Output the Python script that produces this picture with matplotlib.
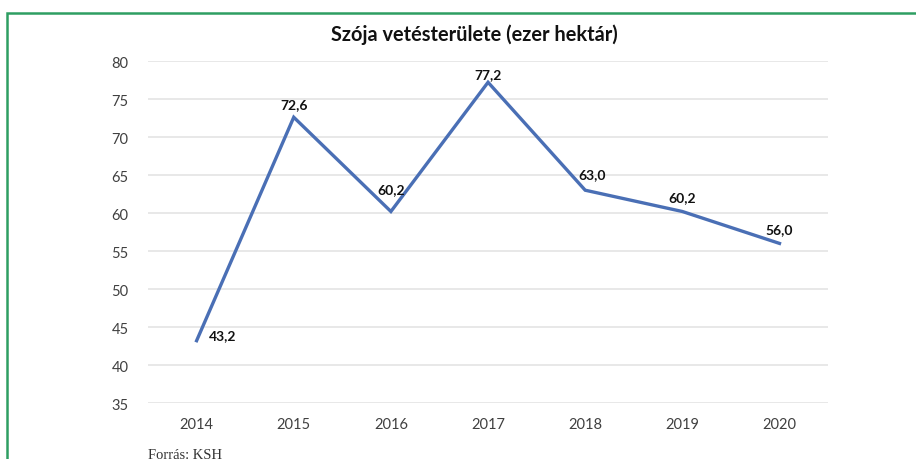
import matplotlib.pyplot as plt
from matplotlib.patches import Rectangle

years = ['2014', '2015', '2016', '2017', '2018', '2019', '2020']
area = [43.2, 72.6, 60.2, 77.2, 63.0, 60.2, 56.0]
yticks = [35, 40, 45, 50, 55, 60, 65, 70, 75, 80]

plt.rcParams['font.family'] = ['Lato', 'DejaVu Sans']

fig = plt.figure(figsize=(9.16, 4.6), dpi=100)
ax = fig.add_axes([0.1616, 0.1217, 0.7424, 0.7435])

x = range(len(years))
ax.plot(x, area, color='#4a6fb5', linewidth=2.4, solid_joinstyle='miter')

# value labels (dx, dy in points, alignment)
offsets = [(9, 4, 'left'), (0, 5, 'center'), (0, 12, 'center'), (0, 1.5, 'center'),
           (5, 7, 'center'), (0, 6, 'center'), (0, 6, 'center')]
for i, v in enumerate(area):
    dx, dy, ha = offsets[i]
    ax.annotate(f'{v:.1f}'.replace('.', ','), (i, v), xytext=(dx, dy),
                textcoords='offset points', ha=ha, va='center' if i == 0 else 'bottom',
                fontsize=10, fontweight='bold', color='#111111')

ax.set_xlim(-0.5, len(years) - 0.5)
ax.set_ylim(35, 80)
ax.set_xticks(list(x))
ax.set_xticklabels(years)
ax.set_yticks(yticks)
ax.tick_params(length=0, labelsize=10.5, colors='#404040', pad=14)
ax.tick_params(axis='x', pad=10)
ax.grid(axis='y', color='#e4e4e4', linewidth=1.2)
ax.set_axisbelow(True)
for s in ax.spines.values():
    s.set_visible(False)

fig.text(0.518, 0.924, 'Szója vetésterülete (ezer hektár)', ha='center', va='center',
         fontsize=14.4, fontweight='bold', color='#111111')
fig.text(0.1616, -0.004, 'Forrás: KSH', ha='left', va='bottom', fontsize=10.5,
         family='Liberation Serif', color='#333333')

# green frame
fig.patches.append(Rectangle((7 / 916, -0.1), 1.0, 1.1 - 14 / 460, transform=fig.transFigure,
                             fill=False, edgecolor='#2e9e62', linewidth=1.8))

fig.savefig('out.png', dpi=100)
